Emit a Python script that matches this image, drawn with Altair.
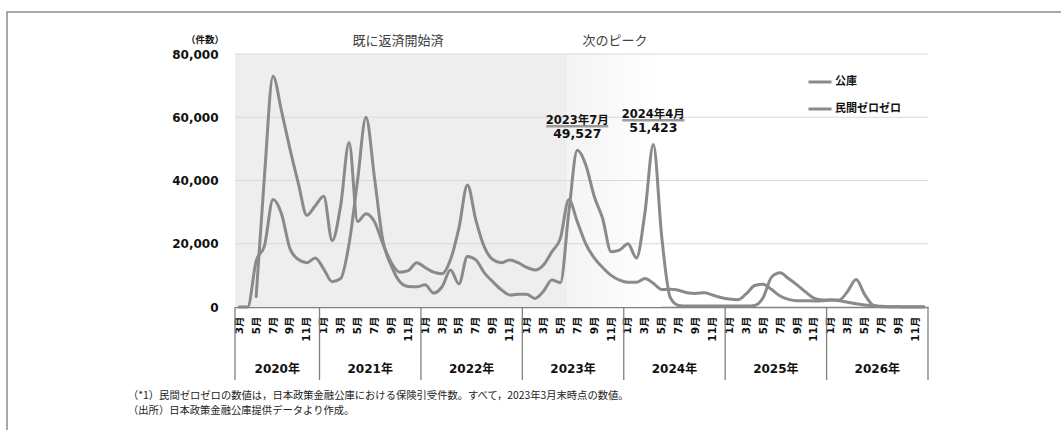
import altair as alt
import pandas as pd

# ---------------- data ----------------
YEARS = ["2020年", "2021年", "2022年", "2023年", "2024年", "2025年", "2026年"]
PERIODS = [f"{y}-{m:02d}" for y in range(2020, 2027) for m in range(1, 13) if (y, m) >= (2020, 3)]
SERIES = ["公庫", "民間ゼロゼロ"]

KOUKO_START = "2020-05"
KOUKO = [3300, 42000, 73000, 62000, 50000, 39000, 29000, 32000,
         35000, 21000, 32000, 52000, 27000, 29500, 27000, 20000, 14000, 11000, 11500, 14000,
         12500, 11000, 10500, 15000, 25000, 38600, 27500, 19000, 15000, 14000, 14900, 14000,
         12500, 11700, 13300, 17500, 21700, 34000, 27000, 20000, 15500, 12500, 10000, 8500,
         7800, 7800, 9000, 7500, 5500, 5600, 5300, 4500, 4300, 4500, 3800, 3000,
         2500, 2300, 4200, 6800, 7200, 5500, 3500, 2400, 2000, 2000, 1900, 2000,
         2200, 2000, 1500, 1000, 600, 400, 200, 100, 50, 0, 0, 0]

MINKAN_START = "2020-03"
MINKAN = [0, 0, 14500, 19500, 34000, 29500, 18500, 15000, 14000, 15500,
          12000, 8000, 9000, 20000, 40000, 60000, 41000, 21000, 13000, 8000, 6500, 6400,
          7000, 4400, 6400, 11700, 7300, 16000, 14900, 10800, 8000, 5500, 3800, 4000,
          4000, 2700, 5000, 8500, 7700, 30000, 49527, 45000, 35000, 28000, 17500, 18000,
          20000, 15500, 29700, 51423, 22000, 3000, 500, 300, 300, 300, 300, 300,
          300, 300, 300, 500, 3000, 9500, 10800, 9000, 7000, 4800, 2800, 2200,
          2200, 2200, 5000, 8700, 4000, 600, 100, 100, 100, 100, 100, 100]

Y_TICKS = [0, 20000, 40000, 60000, 80000]
GRID_VALUES = [20000, 40000, 60000, 80000]

ANNOT_PERIODS = ["2023-07", "2024-04"]
ANNOT_DATES = ["2023年7月", "2024年4月"]

SHADE_END = "2023-06"
HEADERS = ["既に返済開始済", "次のピーク"]
UNIT = "（件数）"
NOTES = ["（*1）民間ゼロゼロの数値は，日本政策金融公庫における保険引受件数。すべて，2023年3月末時点の数値。",
         "（出所）日本政策金融公庫提供データより作成。"]

# ---------------- style ----------------
W, H = 693, 253
LINE_COLOR = "#8a8a8a"
AXIS_COLOR = "#808080"
FONT_NUM = "DejaVu Sans, Noto Sans CJK JP"
FONT_JP = "Noto Sans CJK JP"

idx = {p: i for i, p in enumerate(PERIODS)}

rows = []
for name, start, vals in [(SERIES[0], KOUKO_START, KOUKO), (SERIES[1], MINKAN_START, MINKAN)]:
    s = idx[start]
    for k, v in enumerate(vals):
        rows.append({"i": s + k, "value": v, "series": name})
lines_df = pd.DataFrame(rows)

XS = alt.Scale(domain=[-0.5, len(PERIODS) - 0.5], nice=False, zero=False)
YS = alt.Scale(domain=[0, 80000], nice=False)

X_AXIS = alt.Axis(values=list(range(0, len(PERIODS), 2)),
                  labelExpr="((datum.value + 2) % 12 + 1) + '月'",
                  labelAngle=270, labelAlign="right", labelBaseline="middle",
                  labelFont=FONT_NUM, labelFontSize=10.5, labelFontWeight="bold",
                  labelColor="#111111", labelPadding=9, labelFlush=False,
                  labelOverlap=False, ticks=False, grid=False,
                  domainColor=AXIS_COLOR, domainWidth=1.5, title=None)
Y_AXIS = alt.Axis(values=Y_TICKS, format=",.0f", labelFont="DejaVu Sans",
                  labelFontSize=12, labelFontWeight="bold", labelColor="#111111",
                  labelPadding=17, ticks=False, domain=False, grid=False, title=None)

one = pd.DataFrame({"k": [0]})

# frame
frame = alt.Chart(one).mark_rect(fillOpacity=0, stroke="#8c8c8c", strokeWidth=1.5).encode(
    x=alt.value(-228), x2=alt.value(840), y=alt.value(-42), y2=alt.value(390))

# shading
shade_end = idx[SHADE_END] - 0.2
shade_df = pd.DataFrame({"x0": [-0.5], "x1": [shade_end], "y0": [0], "y1": [80000]})
shade = alt.Chart(shade_df).mark_rect(color="#eeeeee").encode(
    x=alt.X("x0:Q", scale=XS, axis=X_AXIS), x2="x1:Q",
    y=alt.Y("y0:Q", scale=YS, axis=Y_AXIS), y2="y1:Q")

grad_df = pd.DataFrame({"x0": [shade_end], "x1": [idx["2024-05"]], "y0": [0], "y1": [80000]})
grad = alt.Chart(grad_df).mark_rect(
    color=alt.Gradient(gradient="linear",
                       stops=[alt.GradientStop(color="#f4f4f4", offset=0),
                              alt.GradientStop(color="#ffffff", offset=1)],
                       x1=0, x2=1, y1=0, y2=0)).encode(
    x=alt.X("x0:Q", scale=XS, axis=X_AXIS), x2="x1:Q",
    y=alt.Y("y0:Q", scale=YS, axis=Y_AXIS), y2="y1:Q")

grid = alt.Chart(pd.DataFrame({"g": GRID_VALUES})).mark_rule(color="#d9d9d9", strokeWidth=1).encode(
    y=alt.Y("g:Q", scale=YS, axis=Y_AXIS), x=alt.value(0), x2=alt.value(W))

# year separators & labels
bounds = [-0.5] + [idx[f"{2021 + k}-01"] - 0.5 for k in range(6)] + [len(PERIODS) - 0.5]
sep = alt.Chart(pd.DataFrame({"b": bounds})).mark_rule(color=AXIS_COLOR, strokeWidth=1.3).encode(
    x=alt.X("b:Q", scale=XS, axis=X_AXIS), y=alt.value(H), y2=alt.value(H + 73))
year_df = pd.DataFrame({"c": [(bounds[k] + bounds[k + 1]) / 2 for k in range(len(YEARS))], "t": YEARS})
years = alt.Chart(year_df).mark_text(font=FONT_NUM, fontSize=12, fontWeight="bold",
                                     color="#111111", baseline="middle").encode(
    x=alt.X("c:Q", scale=XS, axis=X_AXIS), y=alt.value(H + 62), text="t:N")

# lines
lines = alt.Chart(lines_df).mark_line(interpolate="monotone", strokeWidth=3,
                                      strokeCap="round", strokeJoin="round").encode(
    x=alt.X("i:Q", scale=XS, axis=X_AXIS),
    y=alt.Y("value:Q", scale=YS, axis=Y_AXIS),
    color=alt.Color("series:N",
                    scale=alt.Scale(domain=SERIES, range=[LINE_COLOR, LINE_COLOR]),
                    legend=alt.Legend(orient="none", legendX=572, legendY=15, title=None,
                                      symbolType="stroke", symbolStrokeWidth=3,
                                      symbolSize=529, labelFont=FONT_JP, labelFontSize=11,
                                      labelFontWeight="bold", labelColor="#111111",
                                      rowPadding=8, padding=0, labelOffset=2)),
    detail="series:N")

# annotations
ann_df = pd.DataFrame({
    "i": [idx[p] for p in ANNOT_PERIODS],
    "v": [MINKAN[idx[p] - idx[MINKAN_START]] for p in ANNOT_PERIODS],
    "d": ANNOT_DATES,
})
ann_df["lab"] = ann_df["v"].map(lambda v: f"{v:,}")
underline = alt.Chart(ann_df).mark_rule(color="#9a9a9a", strokeWidth=2.5,
                                        xOffset=-31, x2Offset=31, yOffset=-24).encode(
    x=alt.X("i:Q", scale=XS, axis=X_AXIS), x2="i:Q",
    y=alt.Y("v:Q", scale=YS, axis=Y_AXIS))
ann_date = alt.Chart(ann_df).mark_text(font=FONT_NUM, fontSize=11.5, fontWeight="bold",
                                       color="#111111", dy=-29.5, baseline="middle").encode(
    x=alt.X("i:Q", scale=XS, axis=X_AXIS), y=alt.Y("v:Q", scale=YS, axis=Y_AXIS), text="d:N")
ann_val = alt.Chart(ann_df).mark_text(font=FONT_NUM, fontSize=12.5, fontWeight="bold",
                                      color="#111111", dy=-16, baseline="middle").encode(
    x=alt.X("i:Q", scale=XS, axis=X_AXIS), y=alt.Y("v:Q", scale=YS, axis=Y_AXIS), text="lab:N")

# header texts
hdr1 = alt.Chart(pd.DataFrame({"t": [HEADERS[0]]})).mark_text(
    font=FONT_JP, fontSize=13, color="#404040", baseline="middle").encode(
    x=alt.value(163), y=alt.value(-13), text="t:N")
hdr2 = alt.Chart(pd.DataFrame({"t": [HEADERS[1]]})).mark_text(
    font=FONT_JP, fontSize=13, color="#404040", baseline="middle").encode(
    x=alt.value(380), y=alt.value(-13), text="t:N")
unit = alt.Chart(pd.DataFrame({"t": [UNIT]})).mark_text(
    font=FONT_JP, fontSize=9.5, fontWeight="bold", color="#111111", baseline="middle").encode(
    x=alt.value(-30), y=alt.value(-14), text="t:N")

note1 = alt.Chart(pd.DataFrame({"t": [NOTES[0]]})).mark_text(
    font=FONT_JP, fontSize=10.3, color="#222222", align="left", baseline="middle").encode(
    x=alt.value(-107), y=alt.value(342), text="t:N")
note2 = alt.Chart(pd.DataFrame({"t": [NOTES[1]]})).mark_text(
    font=FONT_JP, fontSize=10.3, color="#222222", align="left", baseline="middle").encode(
    x=alt.value(-107), y=alt.value(357), text="t:N")

chart = alt.layer(frame, shade, grad, grid, sep, years, lines, underline, ann_date, ann_val,
                  hdr1, hdr2, unit, note1, note2).properties(
    width=W, height=H,
    autosize=alt.AutoSizeParams(type="none"),
    padding={"left": 235, "top": 54, "right": 133, "bottom": 123},
    background="white",
).configure_view(stroke=None)

chart.save("out.html", embed_options={"renderer": "svg", "actions": False})
